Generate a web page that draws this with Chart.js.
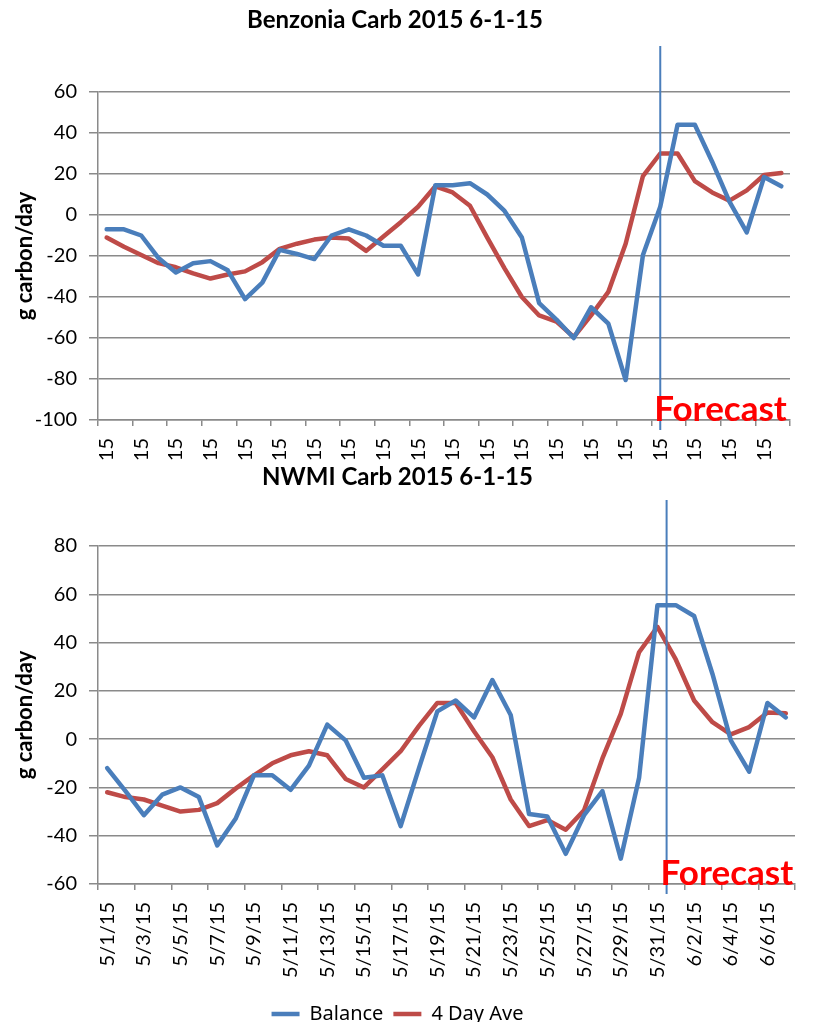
<!DOCTYPE html>
<html>
<head>
<meta charset="utf-8">
<script src="https://cdn.jsdelivr.net/npm/chart.js@4"></script>
<style>
  html, body { margin: 0; background: #fff; overflow: hidden; }
  #topWrap { position: absolute; left: 0; top: 0; width: 813px; height: 462px; overflow: hidden; }
  #bottomWrap { position: absolute; left: 0; top: 462px; width: 813px; height: 560px; overflow: hidden; }
</style>
</head>
<body>
<div id="topWrap"><canvas id="benzonia" width="813" height="530"></canvas></div>
<div id="bottomWrap"><canvas id="nwmi" width="813" height="572"></canvas></div>
<script>
// dates on the x axis
const benzoniaDates = ['5/1/15','5/2/15','5/3/15','5/4/15','5/5/15','5/6/15','5/7/15','5/8/15','5/9/15','5/10/15',
  '5/11/15','5/12/15','5/13/15','5/14/15','5/15/15','5/16/15','5/17/15','5/18/15','5/19/15','5/20/15',
  '5/21/15','5/22/15','5/23/15','5/24/15','5/25/15','5/26/15','5/27/15','5/28/15','5/29/15','5/30/15',
  '5/31/15','6/1/15','6/2/15','6/3/15','6/4/15','6/5/15','6/6/15','6/7/15','6/8/15','6/9/15'];
const nwmiDates = ['5/1/15','5/2/15','5/3/15','5/4/15','5/5/15','5/6/15','5/7/15','5/8/15','5/9/15','5/10/15',
  '5/11/15','5/12/15','5/13/15','5/14/15','5/15/15','5/16/15','5/17/15','5/18/15','5/19/15','5/20/15',
  '5/21/15','5/22/15','5/23/15','5/24/15','5/25/15','5/26/15','5/27/15','5/28/15','5/29/15','5/30/15',
  '5/31/15','6/1/15','6/2/15','6/3/15','6/4/15','6/5/15','6/6/15','6/7/15'];

// g carbon / day
const benzoniaBalance = [-7, -7, -10, -21, -28, -23.5, -22.5, -27, -41, -33,
  -17, -19, -21.5, -10, -7, -10, -15, -15, -29, 14.5,
  14.5, 15.5, 10, 2, -11, -43, -51, -60, -45, -53,
  -80.5, -19.5, 4, 44, 44, 26, 6.5, -8.5, 18.5, 14];
const benzoniaAve = [-11, -15.5, -19.5, -23.5, -25.5, -28.5, -31, -29, -27.5, -23,
  -16.5, -14, -12, -11, -11.5, -17.5, -10.5, -3.5, 4, 14,
  11, 4.5, -11, -26, -40, -49, -52, -59.5, -49, -37.5,
  -14, 19, 30, 30, 16.5, 11, 7, 12, 19.5, 20.5];
const nwmiBalance = [-12, -21.5, -31.5, -23, -20, -24, -44, -33, -15, -15,
  -21, -11, 6, -0.5, -16, -15, -36, -12, 11.5, 16,
  9, 24.5, 10, -31, -32, -47.5, -31.5, -21.5, -49.5, -16,
  55.5, 55.5, 51, 27, -0.5, -13.5, 15, 9];
const nwmiAve = [-22, -24, -25, -27.5, -30, -29.3, -26.5, -20.5, -15, -10,
  -6.7, -5, -6.7, -16.5, -20, -12.5, -5, 5.5, 15, 15,
  3.3, -7.5, -25, -36, -33.5, -37.5, -29.5, -8, 10.5, 36,
  46.5, 33, 16, 7, 2, 5, 11, 10.7];

const blue = '#4a7ebb';
const red = '#be4b48';
const gridGray = '#8a8a8a';

// vertical "Forecast" marker, placed on the category scale
const forecastLine = {
  id: 'forecastLine',
  afterDatasetsDraw(chart, args, opts) {
    const area = chart.chartArea;
    const x = chart.scales.x.getPixelForValue(opts.at);
    const ctx = chart.ctx;
    ctx.save();
    ctx.strokeStyle = blue;
    ctx.lineWidth = 2;
    ctx.beginPath();
    ctx.moveTo(x, area.top - 46);
    ctx.lineTo(x, area.bottom + 10);
    ctx.stroke();
    ctx.fillStyle = '#ff0000';
    ctx.font = 'bold 35px Lato';
    ctx.textAlign = 'left';
    ctx.textBaseline = 'alphabetic';
    ctx.fillText('Forecast', x - 6, area.bottom + 1);
    ctx.restore();
  }
};

function makeChart(id, title, dates, balance, ave, yMin, yMax, forecastAt, cfg) {
  const tickFont = { family: 'Lato', size: 20 };
  return new Chart(document.getElementById(id), {
    type: 'line',
    data: {
      labels: dates,
      datasets: [
        { label: 'Balance', data: balance, borderColor: blue, backgroundColor: blue, borderWidth: 4.5 },
        { label: '4 Day Ave', data: ave, borderColor: red, backgroundColor: red, borderWidth: 4.5 }
      ]
    },
    plugins: [forecastLine],
    options: {
      responsive: false,
      animation: false,
      layout: { padding: { left: 0, right: cfg.right, top: 0, bottom: 0 } },
      elements: {
        line: { tension: 0, borderJoinStyle: 'round', borderCapStyle: 'round' },
        point: { radius: 0 }
      },
      plugins: {
        title: {
          display: true, text: title, color: '#000',
          font: { family: 'Lato', size: 24, weight: 'bold' },
          padding: { top: cfg.titleTop, bottom: cfg.titleBottom }
        },
        legend: {
          display: cfg.legend, position: 'bottom',
          labels: { usePointStyle: true, pointStyle: 'line', pointStyleWidth: 28, color: '#000',
            font: { family: 'Noto Sans', size: 20 }, padding: 10 }
        },
        tooltip: { enabled: false },
        forecastLine: { at: forecastAt }
      },
      scales: {
        x: {
          offset: true,
          grid: {
            offset: true, drawOnChartArea: false, tickLength: 6, lineWidth: 1.5,
            color: c => (c.index === undefined || c.index % 2 === 0) ? gridGray : 'rgba(0,0,0,0)'
          },
          border: { color: gridGray, width: 1.5 },
          ticks: {
            autoSkip: false, minRotation: 90, maxRotation: 90, color: '#000', font: tickFont, padding: 12,
            callback: function (v, i) { return i % 2 === 0 ? this.getLabelForValue(v) : ''; }
          },
          afterFit: s => {
            s.height = cfg.xHeight;
            s.paddingLeft = 0;
            s.paddingRight = 0;
          }
        },
        y: {
          min: yMin, max: yMax,
          ticks: { stepSize: 20, color: '#000', font: tickFont, padding: 12 },
          grid: { color: gridGray, lineWidth: 1.5, tickLength: 9 },
          border: { color: gridGray, width: 1.5 },
          title: {
            display: true, text: 'g carbon/day', color: '#000',
            font: { family: 'Lato', size: 22, weight: 'bold' }, padding: { top: 12, bottom: 0 }
          },
          afterFit: s => { s.width = 98; }
        }
      }
    }
  });
}

makeChart('benzonia', 'Benzonia Carb 2015 6-1-15', benzoniaDates, benzoniaBalance, benzoniaAve, -100, 60, 32,
  { titleTop: 6, titleBottom: 57.2, legend: false, xHeight: 110, right: 23 });
makeChart('nwmi', 'NWMI Carb 2015 6-1-15', nwmiDates, nwmiBalance, nwmiAve, -60, 80, 30.5,
  { titleTop: 1, titleBottom: 54.2, legend: true, xHeight: 110, right: 18 });
</script>
</body>
</html>
